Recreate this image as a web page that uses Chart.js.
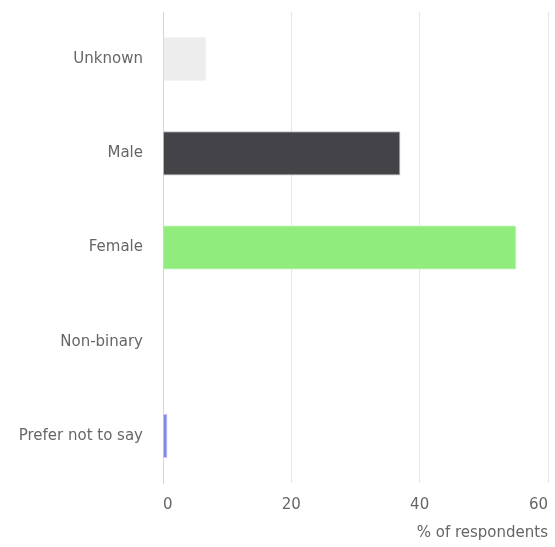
<!DOCTYPE html>
<html>
<head>
<meta charset="utf-8">
<script src="https://cdn.jsdelivr.net/npm/chart.js@4"></script>
<style>
  html, body { margin: 0; padding: 0; background: #fff; }
  #wrap { width: 555px; height: 547px; }
</style>
</head>
<body>
<div id="wrap"><canvas id="chartBar"></canvas></div>
<script>
var categories = ["Unknown", "Male", "Female", "Non-binary", "Prefer not to say"];
var values = [6.75, 37.0, 55.1, 0, 0.7];
var barColors = ["#ededed", "#434348", "#90ed7d", "#f7a35c", "#8085e9"];
var xTicks = [0, 20, 40, 60];

var ctxBar = document.getElementById("chartBar").getContext("2d");
var configBar = {
  type: 'bar',
  data: {
    labels: categories,
    datasets: [
      {
        label: '% of respondents',
        data: values,
        backgroundColor: barColors,
        borderColor: ['#f4f4f4', '#bdbdbd', '#dff8da', '#ffffff', '#c9cbf5'],
        borderWidth: { top: 1, bottom: 1, right: 1, left: 0 },
        barPercentage: 0.47,
        categoryPercentage: 1
      }
    ]
  },
  options: {
    indexAxis: 'y',
    responsive: true,
    maintainAspectRatio: false,
    animation: false,
    layout: { padding: { top: 12, right: 7, left: 0, bottom: 0 } },
    plugins: {
      legend: { display: false },
      tooltip: { enabled: false }
    },
    scales: {
      x: {
        min: 0,
        max: 60,
        afterBuildTicks: function (scale) {
          scale.ticks = xTicks.map(function (v) { return { value: v }; });
        },
        afterFit: function (scale) {
          scale.height = 64;
          scale.paddingLeft = 0;
          scale.paddingRight = 0;
        },
        grid: { color: '#e6e6e6', drawTicks: false, lineWidth: 1 },
        border: { display: false },
        ticks: {
          color: '#666666',
          font: { family: 'DejaVu Sans', size: 15 },
          padding: 13,
          align: 'inner',
          maxRotation: 0
        },
        title: {
          display: true,
          text: '% of respondents',
          align: 'end',
          color: '#666666',
          font: { family: 'DejaVu Sans', size: 15 },
          padding: { top: 0, bottom: 5 }
        }
      },
      y: {
        afterFit: function (scale) {
          scale.width = 163;
          scale.paddingTop = 0;
          scale.paddingBottom = 0;
        },
        grid: { display: false, drawTicks: false },
        border: { display: true, color: '#ccd6eb', width: 1 },
        ticks: {
          color: '#666666',
          font: { family: 'DejaVu Sans', size: 15 },
          padding: 20
        }
      }
    }
  }
};
var chartBar = new Chart(ctxBar, configBar);
</script>
</body>
</html>
